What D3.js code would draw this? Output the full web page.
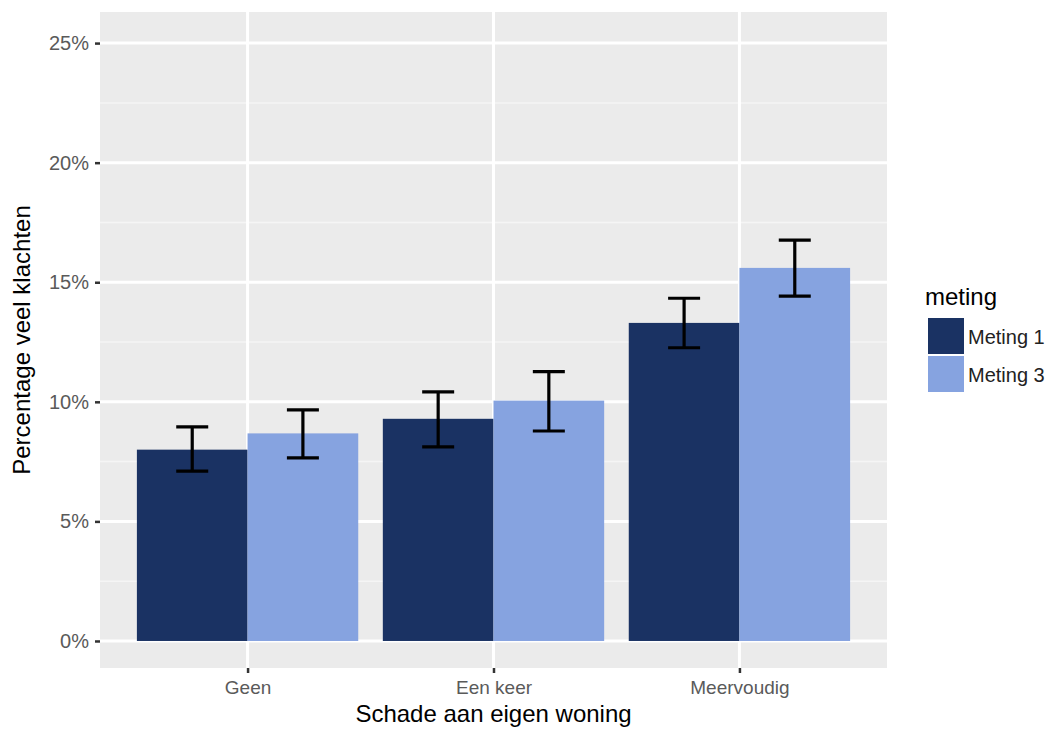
<!DOCTYPE html>
<html><head><meta charset="utf-8">
<script src="https://cdn.jsdelivr.net/npm/d3@7"></script>
<style>body{margin:0;background:#fff}svg{display:block;font-family:"Liberation Sans",Arial,sans-serif}</style>
</head><body><svg id="c" width="1052" height="729"></svg>
<script>
const categories = ["Geen", "Een keer", "Meervoudig"];
const series = ["Meting 1", "Meting 3"];
const meting1 = [8.0, 9.29, 13.3];
const meting1Low = [7.1, 8.12, 12.26];
const meting1High = [8.95, 10.42, 14.33];
const meting3 = [8.68, 10.05, 15.6];
const meting3Low = [7.66, 8.78, 14.42];
const meting3High = [9.66, 11.26, 16.76];
const yTicks = [0, 5, 10, 15, 20, 25];
const colors = ["#1a3263", "#86a3e0"];

const data = [];
categories.forEach((c, i) => {
  data.push({cat: c, s: series[0], v: meting1[i], lo: meting1Low[i], hi: meting1High[i]});
  data.push({cat: c, s: series[1], v: meting3[i], lo: meting3Low[i], hi: meting3High[i]});
});

const svg = d3.select("#c");
const P = {l: 100, r: 887, t: 12, b: 668};
const y = d3.scaleLinear().domain([-1.13, 26.3]).range([P.b, P.t]);
const step = (P.r - P.l) / (categories.length - 1 + 1.2);
const xs = d3.scalePoint().domain(categories).range([P.l + 0.6 * step, P.r - 0.6 * step]);
const cx = c => xs(c);
const x1 = d3.scaleBand().domain(series).range([-0.45 * step, 0.45 * step]);
const color = d3.scaleOrdinal().domain(series).range(colors);

svg.append("rect").attr("x", P.l).attr("y", P.t).attr("width", P.r - P.l).attr("height", P.b - P.t).attr("fill", "#ebebeb");
const minor = [2.5, 7.5, 12.5, 17.5, 22.5];
svg.append("g").selectAll("line").data(minor).join("line")
  .attr("x1", P.l).attr("x2", P.r).attr("y1", d => y(d)).attr("y2", d => y(d))
  .attr("stroke", "#f5f5f5").attr("stroke-width", 1.5);
svg.append("g").selectAll("line").data(yTicks).join("line")
  .attr("x1", P.l).attr("x2", P.r).attr("y1", d => y(d)).attr("y2", d => y(d))
  .attr("stroke", "#fff").attr("stroke-width", 3);
svg.append("g").selectAll("line").data(categories).join("line")
  .attr("x1", d => cx(d)).attr("x2", d => cx(d)).attr("y1", P.t).attr("y2", P.b)
  .attr("stroke", "#fff").attr("stroke-width", 3);

svg.append("g").selectAll("rect").data(data).join("rect")
  .attr("x", d => cx(d.cat) + x1(d.s)).attr("width", x1.bandwidth())
  .attr("y", d => y(d.v)).attr("height", d => y(0) - y(d.v))
  .attr("fill", d => color(d.s));

const eb = svg.append("g").attr("stroke", "#000").attr("stroke-width", 3.2);
data.forEach(d => {
  const mx = cx(d.cat) + x1(d.s) + x1.bandwidth() / 2;
  const hw = 16;
  eb.append("line").attr("x1", mx).attr("x2", mx).attr("y1", y(d.lo)).attr("y2", y(d.hi));
  eb.append("line").attr("x1", mx - hw).attr("x2", mx + hw).attr("y1", y(d.lo)).attr("y2", y(d.lo));
  eb.append("line").attr("x1", mx - hw).attr("x2", mx + hw).attr("y1", y(d.hi)).attr("y2", y(d.hi));
});

const ya = svg.append("g").attr("transform", `translate(${P.l},0)`)
  .call(d3.axisLeft(y).tickValues(yTicks).tickFormat(d => d + "%").tickSize(5).tickPadding(6));
ya.select(".domain").remove();
ya.selectAll(".tick line").attr("stroke", "#333").attr("stroke-width", 2.5);
ya.selectAll(".tick text").attr("fill", "#5a5a5a").attr("font-size", 20).attr("font-family", "Liberation Sans, Arial, sans-serif");

const xa = svg.append("g").attr("transform", `translate(0,${P.b})`)
  .call(d3.axisBottom(xs).tickSize(5).tickPadding(8));
xa.select(".domain").remove();
xa.selectAll(".tick line").attr("stroke", "#333").attr("stroke-width", 2.5);
xa.selectAll(".tick text").attr("fill", "#5a5a5a").attr("font-size", 19).attr("font-family", "Liberation Sans, Arial, sans-serif");

svg.append("text").attr("x", (P.l + P.r) / 2).attr("y", 722).attr("text-anchor", "middle")
  .attr("font-size", 24).attr("fill", "#000").text("Schade aan eigen woning");
svg.append("text").attr("transform", `translate(30,${(P.t + P.b) / 2}) rotate(-90)`).attr("text-anchor", "middle")
  .attr("font-size", 24).attr("fill", "#000").text("Percentage veel klachten");

const lg = svg.append("g");
lg.append("text").attr("x", 925).attr("y", 305).attr("font-size", 24).text("meting");
series.forEach((s, i) => {
  lg.append("rect").attr("x", 928).attr("y", 318 + i * 38).attr("width", 36).attr("height", 36).attr("fill", color(s));
  lg.append("text").attr("x", 968).attr("y", 344 + i * 38).attr("font-size", 20).attr("fill", "#222").text(s);
});
</script></body></html>
